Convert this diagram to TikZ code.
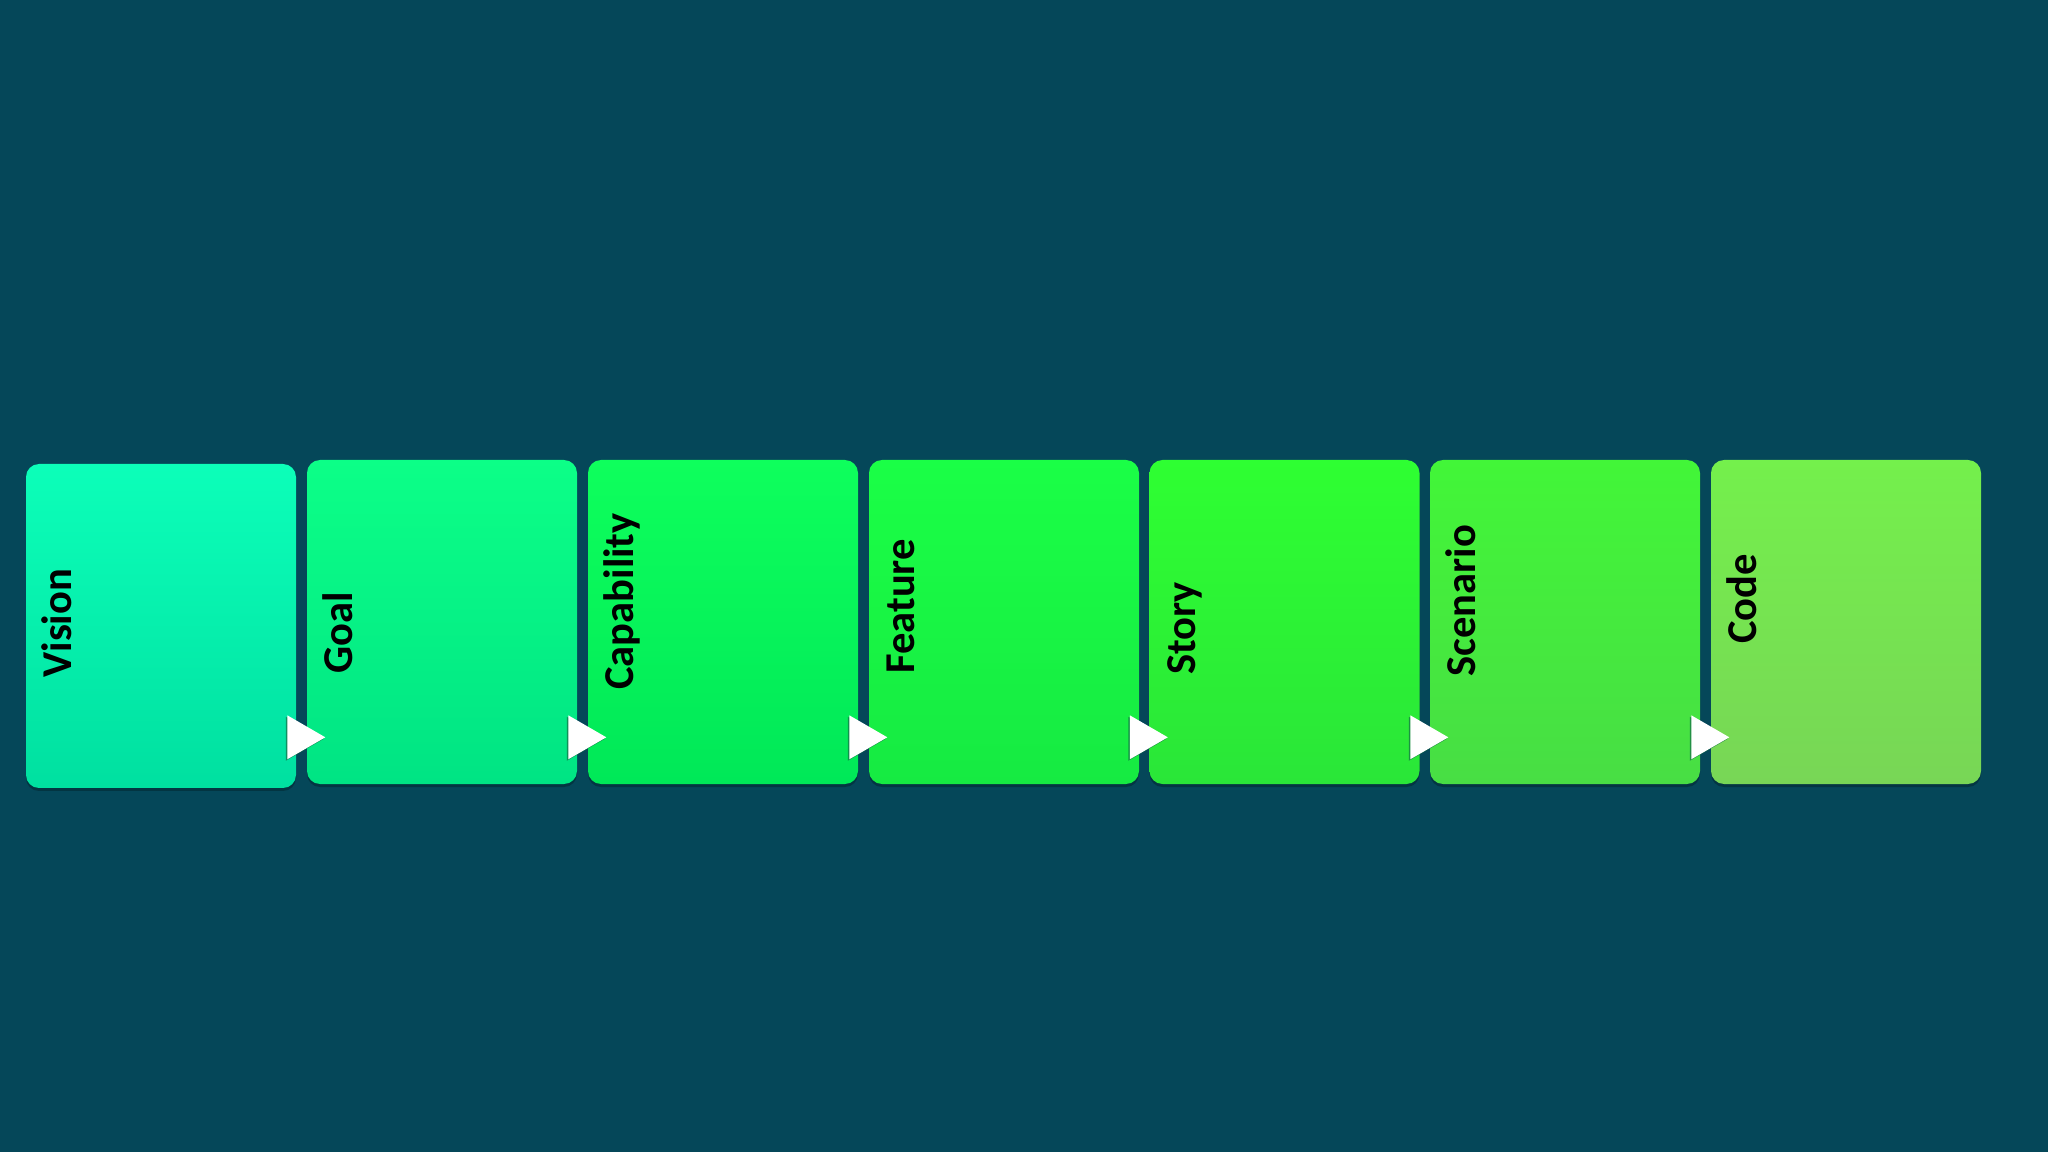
\documentclass[tikz,border=0pt]{standalone}
\usepackage{fontspec}
\setmainfont{Carlito}
\usetikzlibrary{calc,shadows}
\definecolor{bgcol}{RGB}{5,71,89}
\definecolor{t1}{RGB}{12,255,185}\definecolor{u1}{RGB}{0,224,160}
\definecolor{t2}{RGB}{12,255,135}\definecolor{u2}{RGB}{0,228,132}
\definecolor{t3}{RGB}{14,255,92}\definecolor{u3}{RGB}{0,232,88}
\definecolor{t4}{RGB}{26,255,70}\definecolor{u4}{RGB}{22,234,66}
\definecolor{t5}{RGB}{46,255,50}\definecolor{u5}{RGB}{42,230,56}
\definecolor{t6}{RGB}{66,246,56}\definecolor{u6}{RGB}{72,222,68}
\definecolor{t7}{RGB}{116,240,76}\definecolor{u7}{RGB}{120,214,86}
\definecolor{trishadow}{RGB}{20,110,70}
\tikzset{
  card/.style={rectangle, rounded corners=0.13cm, minimum width=2.70cm, minimum height=3.24cm, inner sep=0pt,
    drop shadow={shadow xshift=0cm, shadow yshift=-0.03cm, opacity=0.25, fill=black}},
  lbl/.style={rotate=90, anchor=base west, inner sep=0pt, font=\fontsize{12.1}{14}\selectfont\bfseries, text=black},
  tri/.style={fill=white},
  trishade/.style={fill=trishadow, opacity=0.7}
}
\begin{document}
\begin{tikzpicture}
\fill[bgcol] (0,0) rectangle (20.48,-11.52);
\useasboundingbox (0,0) rectangle (20.48,-11.52);
% cards
\node[card, top color=t1, bottom color=u1] (b1) at (1.61,-6.26) {};
\node[card, top color=t2, bottom color=u2] (b2) at (4.42,-6.22) {};
\node[card, top color=t3, bottom color=u3] (b3) at (7.23,-6.22) {};
\node[card, top color=t4, bottom color=u4] (b4) at (10.04,-6.22) {};
\node[card, top color=t5, bottom color=u5] (b5) at (12.845,-6.22) {};
\node[card, top color=t6, bottom color=u6] (b6) at (15.65,-6.22) {};
\node[card, top color=t7, bottom color=u7] (b7) at (18.46,-6.22) {};
% labels
\node[lbl] (l1) at ($(b1.north west)+(0.465,-2.15)$) {Vision};
\node[lbl] (l2) at ($(b2.north west)+(0.465,-2.15)$) {Goal};
\node[lbl] (l3) at ($(b3.north west)+(0.465,-2.31)$) {Capability};
\node[lbl] (l4) at ($(b4.north west)+(0.465,-2.15)$) {Feature};
\node[lbl] (l5) at ($(b5.north west)+(0.465,-2.16)$) {Story};
\node[lbl] (l6) at ($(b6.north west)+(0.465,-2.18)$) {Scenario};
\node[lbl] (l7) at ($(b7.north west)+(0.465,-1.85)$) {Code};
% arrow triangles
\foreach \b in {b2,b3,b4,b5,b6,b7}{
  \fill[trishade] ($(\b.north west)+(-0.205,-2.575)$) -- ($(\b.north west)+(-0.205,-3.015)$) -- ($(\b.north west)+(0.175,-2.795)$) -- cycle;
  \fill[tri] ($(\b.north west)+(-0.19,-2.56)$) -- ($(\b.north west)+(-0.19,-3.0)$) -- ($(\b.north west)+(0.19,-2.78)$) -- cycle;
}
\end{tikzpicture}
\end{document}
